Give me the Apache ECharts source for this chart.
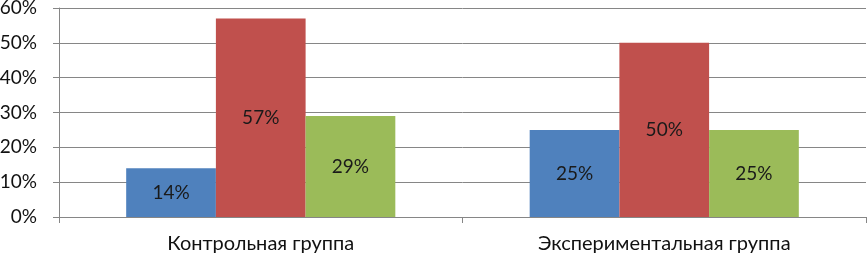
<!DOCTYPE html>
<html><head><meta charset="utf-8">
<script src="https://cdn.jsdelivr.net/npm/echarts@6/dist/echarts.min.js"></script>
<style>html,body{margin:0;padding:0;background:#fff}#c{width:868px;height:257px}</style>
</head><body><div id="c"></div>
<script>
const categories = ['Контрольная группа', 'Экспериментальная группа'];
const series1 = [14, 25];
const series2 = [57, 50];
const series3 = [29, 25];
const yTicks = [0, 10, 20, 30, 40, 50, 60];
const colors = ['#4F81BD', '#C0504D', '#9BBB59'];
const font = 'Lato, "Open Sans", "Noto Sans", sans-serif';
const chart = echarts.init(document.getElementById('c'));
const mk = (d, i) => ({
  type: 'bar', data: d, barGap: '0%', barCategoryGap: '33.3%',
  itemStyle: { color: colors[i] },
  label: { show: true, position: 'inside', formatter: '{c}%', color: '#1a1a1a', fontSize: 19, fontFamily: font },
  animation: false
});
chart.setOption({
  animation: false,
  grid: { left: 59, right: 2, top: 8, bottom: 40, containLabel: false, outerBoundsMode: 'none' },
  xAxis: {
    type: 'category', data: categories,
    axisLine: { lineStyle: { color: '#868686' } },
    axisTick: { show: true, length: 6, lineStyle: { color: '#868686' } },
    axisLabel: { color: '#111', fontSize: 20, fontFamily: font, margin: 17 }
  },
  yAxis: {
    type: 'value', min: yTicks[0], max: yTicks[yTicks.length - 1], interval: 10,
    axisLine: { show: true, lineStyle: { color: '#868686' } },
    axisTick: { show: true, length: 6, lineStyle: { color: '#868686' } },
    splitLine: { lineStyle: { color: '#868686' } },
    axisLabel: { color: '#111', fontSize: 19, fontFamily: font, margin: 22, formatter: '{value}%' }
  },
  series: [mk(series1, 0), mk(series2, 1), mk(series3, 2)]
});
</script></body></html>
